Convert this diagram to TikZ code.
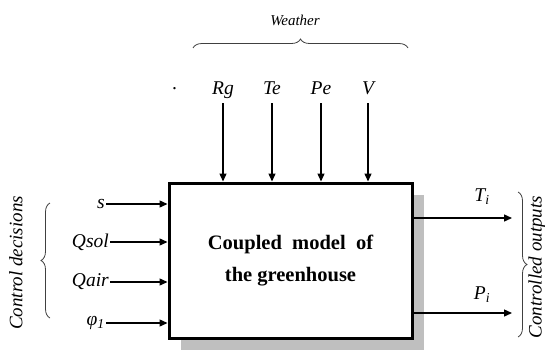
\documentclass[tikz,border=0pt]{standalone}
\usepackage{fontspec}
\setmainfont{Liberation Serif}
\usepackage{tikz}
\usetikzlibrary{arrows.meta,positioning,shadows,decorations.pathreplacing}
\tikzset{
  sig/.style={font=\fontsize{19.5}{22}\selectfont\itshape, inner sep=1pt},
  grp/.style={font=\fontsize{15}{18}\selectfont\itshape, inner sep=1pt},
  side/.style={font=\fontsize{19}{22}\selectfont\itshape, inner sep=1pt, rotate=90},
  flow/.style={line width=1.4pt, -{Triangle[length=8pt,width=7pt]}},
  cbrace/.style={decorate, decoration={brace, amplitude=9pt}, line width=0.8pt, draw=black!75},
  modelbox/.style={draw, line width=3pt, fill=white, minimum width=243pt, minimum height=155pt,
    align=center, font=\fontsize{20.5}{32}\selectfont\bfseries,
    drop shadow={shadow xshift=12pt, shadow yshift=-12pt, fill=black!25, opacity=1}}
}
\begin{document}
\begin{tikzpicture}[x=1pt, y=-1pt]
\useasboundingbox (0,0) rectangle (545,351);
\node[modelbox] (model) at (290.5,260.5) {Coupled\ \ model\ \ of\\the greenhouse};
% weather inputs
\node[grp] (weather) at (295,20) {Weather};
\node[sig] (dot) at (175,89) {.};
\node[sig] (rg) at (223,90) {Rg};
\node[sig] (te) at (272,88) {Te};
\node[sig] (pe) at (321,88) {Pe};
\node[sig] (v) at (368,88) {V};
\foreach \n in {rg,te,pe,v}
  \draw[flow] (\n.south |- 0,103) -- (\n.south |- model.north);
\draw[cbrace] (193,48) -- (408,48);
% control decisions
\node[sig, anchor=east] (s) at (106,204) {s};
\node[sig, anchor=east] (qsol) at (110,242) {Qsol};
\node[sig, anchor=east] (qair) at (110,282) {Qair};
\node[sig, anchor=east] (phi) at (106,323) {φ\textsubscript{1}};
\foreach \n in {s,qsol,qair,phi}
  \draw[flow] (\n.east) -- (\n.east -| model.west);
\draw[cbrace] (50,318) -- (50,203);
\node[side] (ctrl) at (16,263) {Control decisions};
% controlled outputs
\coordinate (tend) at (512,218);
\coordinate (pend) at (512,313);
\draw[flow] (tend -| model.east) -- (tend);
\draw[flow] (pend -| model.east) -- (pend);
\node[sig] (ti) at (482,197) {T\textsubscript{\itshape i}};
\node[sig] (pi) at (482,295) {P\textsubscript{\itshape i}};
\draw[cbrace] (518,192) -- (518,337);
\node[side] (outs) at (537,267) {Controlled outputs};
\end{tikzpicture}
\end{document}
